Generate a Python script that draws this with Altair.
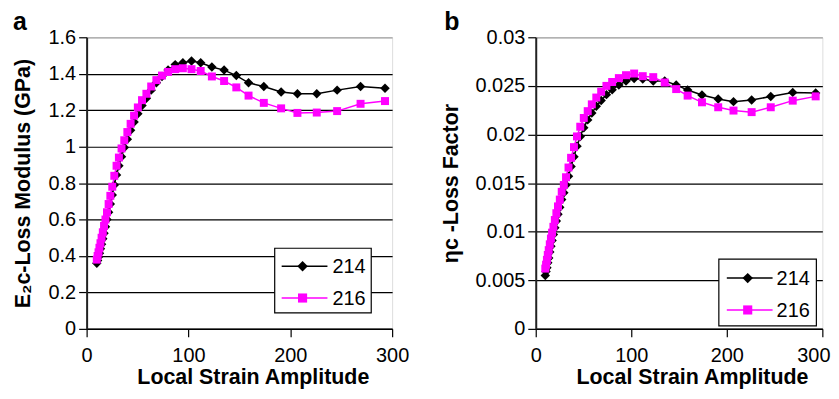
import altair as alt
import pandas as pd

# ---------------- data ----------------
strain = [10, 10.8, 11.7, 12.6, 13.6, 14.7, 15.9, 17.1, 18.5, 20,
          21.6, 23.3, 25.2, 27.2, 29.4, 31.7, 34.3, 37, 40, 43.2,
          46.6, 50.3, 54.4, 58.7, 63.4, 68.5, 74, 80, 87, 94.5,
          103, 112, 123, 135, 147, 159, 174, 191, 207, 226,
          246, 269, 293]

modulus_214 = [0.36, 0.375, 0.395, 0.415, 0.44, 0.465, 0.495, 0.525, 0.56, 0.60,
               0.64, 0.685, 0.735, 0.79, 0.845, 0.895, 0.945, 0.995, 1.04, 1.09,
               1.135, 1.18, 1.225, 1.265, 1.31, 1.35, 1.385, 1.42, 1.45, 1.46,
               1.47, 1.46, 1.437, 1.42, 1.39, 1.35, 1.33, 1.30, 1.29, 1.29,
               1.31, 1.33, 1.32]
modulus_216 = [0.38, 0.40, 0.42, 0.445, 0.47, 0.50, 0.53, 0.565, 0.60, 0.64,
               0.685, 0.73, 0.78, 0.84, 0.895, 0.94, 0.99, 1.035, 1.08, 1.125,
               1.17, 1.215, 1.255, 1.29, 1.33, 1.365, 1.39, 1.41, 1.425, 1.43,
               1.425, 1.415, 1.385, 1.36, 1.325, 1.28, 1.24, 1.21, 1.185, 1.187,
               1.195, 1.235, 1.25]

loss_214 = [0.0055, 0.0059, 0.0063, 0.0068, 0.0073, 0.0079, 0.0085, 0.0091, 0.0097, 0.0104,
            0.0111, 0.0118, 0.0125, 0.0133, 0.0140, 0.0148, 0.0157, 0.0167, 0.0177, 0.0188,
            0.0198, 0.0207, 0.0215, 0.0222, 0.0229, 0.0235, 0.0241, 0.0246, 0.0251, 0.0255,
            0.02576, 0.0257, 0.0255, 0.0255, 0.0251, 0.02457, 0.02406, 0.02365, 0.02338, 0.02355,
            0.0239, 0.02433, 0.02427]
loss_216 = [0.0062, 0.0066, 0.0071, 0.0076, 0.0081, 0.0087, 0.0093, 0.0099, 0.0105, 0.0112,
            0.0119, 0.0126, 0.0133, 0.0141, 0.0148, 0.0156, 0.0166, 0.0176, 0.0187, 0.0198,
            0.0208, 0.0217, 0.0224, 0.0231, 0.0238, 0.0244, 0.0250, 0.0254, 0.0258, 0.0261,
            0.02627, 0.0260, 0.0259, 0.02535, 0.02467, 0.0240, 0.02331, 0.0228, 0.02246, 0.0223,
            0.0228, 0.02348, 0.02392]

series_names = ["214", "216"]
series_colors = ["#000000", "#FF00FF"]
series_shapes = ["diamond", "square"]
series_sizes = [90, 64]

x_ticks = [0, 100, 200, 300]
mod_ticks = [0, 0.2, 0.4, 0.6, 0.8, 1.0, 1.2, 1.4, 1.6]
loss_ticks = [0, 0.005, 0.01, 0.015, 0.02, 0.025, 0.03]

FONT = "Liberation Sans"


def panel(v214, v216, ymax, yticks, ytitle, letter, w, h,
          y_extent, y_title_pad, x_title_x, leg, letter_x, last_label_shift):
    n = len(strain)
    df = pd.DataFrame({
        "strain": strain * 2,
        "value": v214 + v216,
        "series": [series_names[0]] * n + [series_names[1]] * n,
    })
    x_enc = alt.X("strain:Q",
                  scale=alt.Scale(domain=[0, 300], nice=False, zero=False),
                  axis=alt.Axis(values=x_ticks, title="Local Strain Amplitude",
                                grid=False, tickSize=8, tickColor="black",
                                tickWidth=1.2, domainColor="black", domainWidth=1.5,
                                labelFont=FONT, labelFontSize=20, labelColor="black",
                                labelPadding=9, labelFlush=False,
                                labelOffset={"condition": {"test": "datum.value >= 300",
                                                           "value": last_label_shift},
                                             "value": 0},
                                titleFont=FONT, titleFontSize=21.5, titleFontWeight="bold",
                                titleColor="black", minExtent=38, maxExtent=38,
                                titlePadding=0, titleX=x_title_x, titleAlign="center"))
    top = yticks[-1] * 0.999
    y_enc = alt.Y("value:Q",
                  scale=alt.Scale(domain=[0, ymax], nice=False),
                  axis=alt.Axis(values=yticks, format="~g", title=ytitle,
                                grid=True,
                                gridColor={"condition": {"test": f"datum.value >= {top}",
                                                         "value": "#a0a0a0"},
                                           "value": "#000000"},
                                gridWidth=1.2, gridOpacity=1,
                                tickSize=8, tickColor="black", tickWidth=1.2,
                                domainColor="#222222", domainWidth=2,
                                labelFont=FONT, labelFontSize=20, labelColor="black",
                                labelPadding=3,
                                titleFont=FONT, titleFontSize=21.5, titleFontWeight="bold",
                                titleColor="black", minExtent=y_extent, maxExtent=y_extent,
                                titlePadding=y_title_pad))
    layers = []
    for name, col, shp, sz in zip(series_names, series_colors, series_shapes, series_sizes):
        base = alt.Chart(df).transform_filter(alt.datum.series == name)
        layers.append(base.mark_line(color=col, strokeWidth=1.5).encode(x=x_enc, y=y_enc))
        layers.append(base.mark_point(shape=shp, filled=True, color=col, size=sz, opacity=1)
                      .encode(x=x_enc, y=y_enc))

    # legend box (drawn as marks inside the plot)
    one = pd.DataFrame({"k": [0]})
    bx0, bx1, by0, by1, lx0, lx1, mx, tx, rows = leg
    layers.append(alt.Chart(one).mark_rect(fill="white", stroke="black", strokeWidth=1.2)
                  .encode(x=alt.value(bx0), x2=alt.value(bx1), y=alt.value(by0), y2=alt.value(by1)))
    for i, (name, col, shp, sz) in enumerate(zip(series_names, series_colors, series_shapes, series_sizes)):
        ry = rows[i]
        layers.append(alt.Chart(one).mark_rule(color=col, strokeWidth=1.5)
                      .encode(x=alt.value(lx0), x2=alt.value(lx1), y=alt.value(ry)))
        layers.append(alt.Chart(one).mark_point(shape=shp, filled=True, color=col, size=sz + 20, opacity=1)
                      .encode(x=alt.value(mx), y=alt.value(ry)))
        layers.append(alt.Chart(one).mark_text(text=name, font=FONT, fontSize=20, color="black",
                                               align="left", baseline="middle")
                      .encode(x=alt.value(tx), y=alt.value(ry + 1)))
    # panel letter
    layers.append(alt.Chart(one).mark_text(text=letter, font=FONT, fontSize=25, fontWeight="bold",
                                           color="black", align="left", baseline="alphabetic")
                  .encode(x=alt.value(letter_x), y=alt.value(-7)))
    return alt.layer(*layers).properties(width=w, height=h)


panel_a = panel(modulus_214, modulus_216, 1.6, mod_ticks, "E₂c-Loss Modulus (GPa)", "a",
                307, 293, 40, 12, 167,
                (189, 286, 212, 277, 196, 242, 217, 247, [230, 262]), -74, 0)
panel_b = panel(loss_214, loss_216, 0.03, loss_ticks, "ηc -Loss Factor", "b",
                288, 293, 61, 12.5, 157,
                (184, 282, 223, 290, 192, 238, 213, 242, [242, 274]), -92, -9)

chart = alt.hconcat(panel_a, panel_b, spacing=30.3).properties(
    padding={"left": 4, "top": 0.5, "right": 0, "bottom": 0}
).configure_view(stroke="#a0a0a0", strokeWidth=1.5).configure(background="white")

chart.save("out.html", embed_options={"renderer": "svg", "actions": False})
